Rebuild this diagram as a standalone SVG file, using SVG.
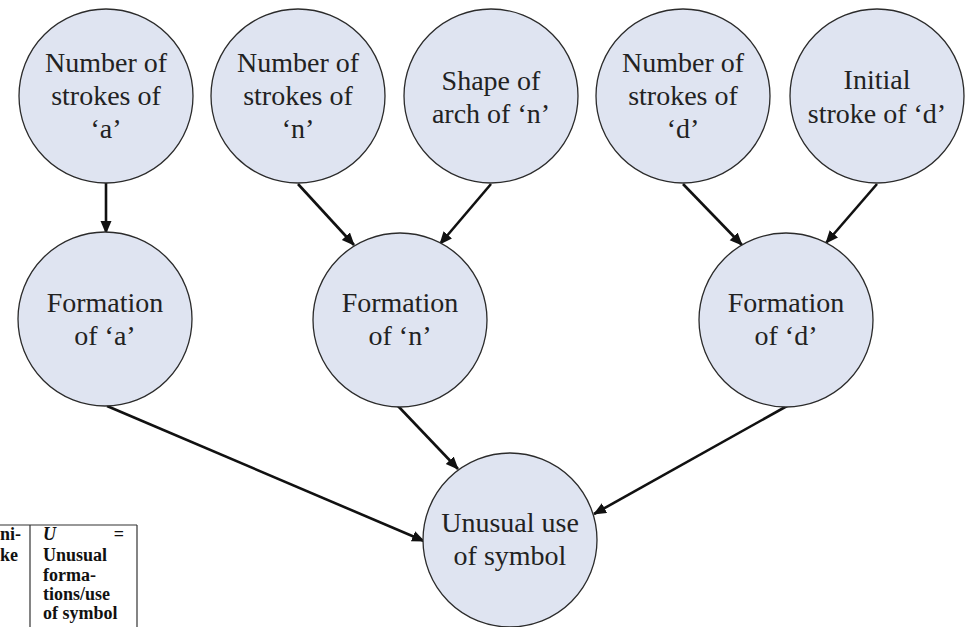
<svg xmlns="http://www.w3.org/2000/svg" width="966" height="627" viewBox="0 0 966 627">
  <style>
    .node circle { fill: #dfe4f1; stroke: #2b2b2b; stroke-width: 1.3; }
    .node text { font-family: "Liberation Serif", "Times New Roman", serif; font-size: 28px; fill: #222; text-anchor: middle; }
    .edges line { stroke: #111; stroke-width: 2.6; marker-end: url(#arrow); }
    .tbl line { stroke: #333; stroke-width: 1.2; }
    .tbl text { font-family: "Liberation Serif", "Times New Roman", serif; font-size: 18px; font-weight: bold; fill: #111; }
  </style>
  <defs>
    <marker id="arrow" markerUnits="userSpaceOnUse" markerWidth="14" markerHeight="12" refX="12" refY="5.5" orient="auto">
      <path d="M0,0 L13,5.5 L0,11 z" fill="#111"/>
    </marker>
  </defs>
  <rect width="966" height="627" fill="#ffffff"/>

  <!-- connectors -->
  <g class="edges">
    <line x1="106" y1="183" x2="106" y2="233"/>
    <line x1="298" y1="184" x2="354" y2="245"/>
    <line x1="491" y1="184" x2="440" y2="244"/>
    <line x1="683" y1="184" x2="742" y2="245"/>
    <line x1="877" y1="184" x2="826" y2="243"/>
    <line x1="107" y1="406" x2="424" y2="541"/>
    <line x1="398" y1="406" x2="458" y2="469"/>
    <line x1="787" y1="406" x2="594" y2="514"/>
  </g>

  <!-- top row -->
  <g id="strokes-a" class="node">
    <circle cx="106" cy="96" r="87"/>
    <text x="106" y="72">Number of</text>
    <text x="106" y="105">strokes of</text>
    <text x="106" y="138">‘a’</text>
  </g>
  <g id="strokes-n" class="node">
    <circle cx="298" cy="96" r="87"/>
    <text x="298" y="72">Number of</text>
    <text x="298" y="105">strokes of</text>
    <text x="298" y="138">‘n’</text>
  </g>
  <g id="arch-n" class="node">
    <circle cx="491" cy="96" r="87"/>
    <text x="491" y="90">Shape of</text>
    <text x="491" y="123">arch of ‘n’</text>
  </g>
  <g id="strokes-d" class="node">
    <circle cx="683" cy="96" r="87"/>
    <text x="683" y="72">Number of</text>
    <text x="683" y="105">strokes of</text>
    <text x="683" y="138">‘d’</text>
  </g>
  <g id="initial-d" class="node">
    <circle cx="877" cy="96" r="87"/>
    <text x="877" y="89">Initial</text>
    <text x="877" y="123">stroke of ‘d’</text>
  </g>

  <!-- middle row -->
  <g id="formation-a" class="node">
    <circle cx="105" cy="319" r="87"/>
    <text x="105" y="312">Formation</text>
    <text x="105" y="345">of ‘a’</text>
  </g>
  <g id="formation-n" class="node">
    <circle cx="400" cy="320" r="87"/>
    <text x="400" y="312">Formation</text>
    <text x="400" y="345">of ‘n’</text>
  </g>
  <g id="formation-d" class="node">
    <circle cx="786" cy="320" r="87"/>
    <text x="786" y="312">Formation</text>
    <text x="786" y="345">of ‘d’</text>
  </g>

  <!-- bottom -->
  <g id="unusual" class="node">
    <circle cx="510" cy="540" r="87"/>
    <text x="510" y="532">Unusual use</text>
    <text x="510" y="565">of symbol</text>
  </g>

  <!-- table fragment, lower left -->
  <g class="tbl">
    <line x1="0" y1="525" x2="137" y2="525"/>
    <line x1="30" y1="525" x2="30" y2="627"/>
    <line x1="137" y1="525" x2="137" y2="627"/>
    <text x="0" y="540">ni-</text>
    <text x="0" y="561">ke</text>
    <text x="43" y="540" font-style="italic" font-weight="normal">U</text>
    <text x="124" y="540" text-anchor="end" font-weight="normal">=</text>
    <text x="43" y="561">Unusual</text>
    <text x="43" y="581">forma-</text>
    <text x="43" y="600">tions/use</text>
    <text x="43" y="619">of symbol</text>
  </g>
</svg>
